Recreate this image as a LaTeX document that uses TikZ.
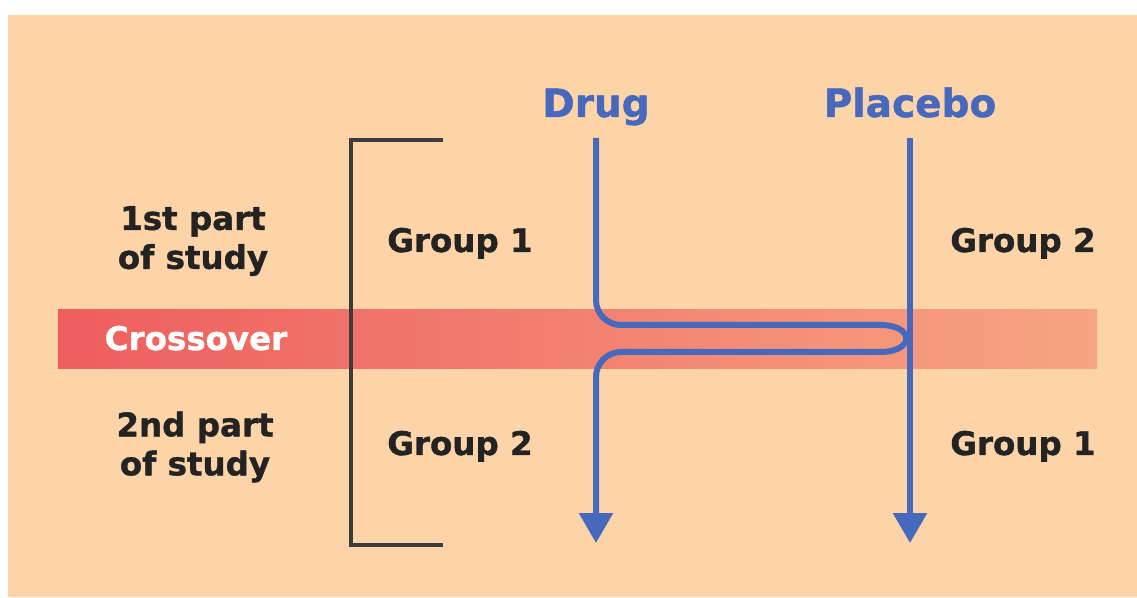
\documentclass[tikz,border=0pt]{standalone}
\usepackage{fontspec}
\setmainfont{DejaVu Sans}[BoldFeatures={FakeBold=1.2}]
\usetikzlibrary{arrows.meta}
\definecolor{peach}{RGB}{253,212,168}
\definecolor{bandL}{RGB}{238,94,94}
\definecolor{bandR}{RGB}{247,164,130}
\definecolor{lineblue}{RGB}{70,105,190}
\definecolor{txt}{RGB}{35,35,35}
\definecolor{brk}{RGB}{60,60,60}
\tikzset{
  header/.style={text=lineblue, font=\fontsize{39}{47}\selectfont\bfseries, anchor=base, inner sep=0pt},
  body/.style={text=txt, font=\fontsize{32.5}{39}\selectfont\bfseries, inner sep=0pt},
  blueline/.style={draw=lineblue, line width=6pt, -{Triangle[width=33pt,length=30pt]}},
  bracket/.style={draw=brk, line width=3.2pt},
}
\begin{document}
\begin{tikzpicture}[x=1pt,y=1pt]
\useasboundingbox (0,0) rectangle (1137,597);
\fill[white] (0,0) rectangle (1137,597);
\fill[peach] (8,0) rectangle (1137,582);
% crossover band
\shade[left color=bandL, right color=bandR] (58,228) rectangle (1097,287);
\node[body, text=white, anchor=base] (cross) at (196,247) {Crossover};
% bracket
\coordinate (bt) at (443,457);
\coordinate (bb) at (443,52);
\draw[bracket] (bt) -- (351,457) -- (351,52) -- (bb);
% headers
\node[header] (drug) at (596,480) {Drug};
\node[header] (placebo) at (910,480) {Placebo};
% labels
\node[body, align=center] (first) at (193,356) {1st part\\of study};
\node[body, align=center] (second) at (195,150) {2nd part\\of study};
\node[body, anchor=base] (g1a) at (460,345) {Group 1};
\node[body, anchor=base] (g2a) at (1023,345) {Group 2};
\node[body, anchor=base] (g2b) at (460,142) {Group 2};
\node[body, anchor=base] (g1b) at (1023,142) {Group 1};
% arrows
\coordinate (drugtop) at (596,459);
\coordinate (drugend) at (596,54);
\coordinate (platop) at (910,459);
\coordinate (plaend) at (910,54);
\draw[blueline] (platop) -- (plaend);
\draw[blueline] (drugtop) -- (596,297) arc[start angle=180, end angle=270, radius=25pt]
  -- (880,272) .. controls (915,272) and (915,245) .. (880,245)
  -- (621,245) arc[start angle=90, end angle=180, radius=25pt] -- (drugend);
\end{tikzpicture}
\end{document}
